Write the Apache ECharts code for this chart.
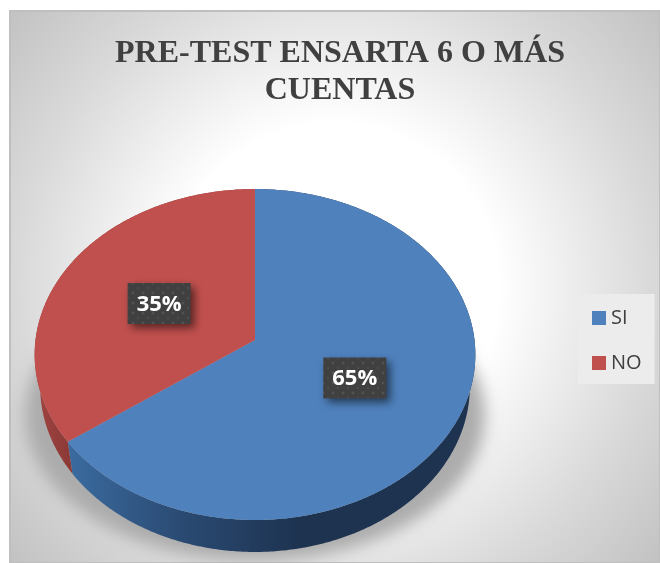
<!DOCTYPE html>
<html>
<head>
<meta charset="utf-8">
<style>
html, body { margin: 0; padding: 0; background: #fff; }
#chart { width: 660px; height: 563px; }
</style>
<script src="https://cdn.jsdelivr.net/npm/echarts@6/dist/echarts.min.js"></script>
</head>
<body>
<div id="chart"></div>
<script>
var titleLines = ["PRE-TEST ENSARTA 6 O MÁS", "CUENTAS"];
var categories = ["SI", "NO"];
var values = [65, 35];
var topColors = ["#4f81bd", "#c0504d"];

// pie geometry: tilted disc, the near half looks bigger than the far half
var cx = 255, cy = 340;
var radius = 219.5;
var persp = -0.0876, tilt = 134.4;
var depth = 32, baseShrink = 0.975;

function project(angle, r, dy, shrink) {
  var u = Math.sin(angle) * r, v = -Math.cos(angle) * r;
  var w = 1 + persp * v;
  return [cx + radius * (shrink || 1) * u / w, (cy + tilt * v) / w + (dy || 0)];
}

function arc(a0, a1, dy, shrink) {
  var pts = [];
  var n = Math.max(2, Math.ceil((a1 - a0) / 0.01));
  for (var i = 0; i <= n; i++) {
    pts.push(project(a0 + (a1 - a0) * i / n, 1, dy, shrink));
  }
  return pts;
}

// dotted texture of the label boxes
function dotPattern() {
  var c = document.createElement("canvas");
  c.width = 10;
  c.height = 10;
  var g = c.getContext("2d");
  g.fillStyle = "#404040";
  g.fillRect(0, 0, 10, 10);
  g.fillStyle = "#515151";
  g.beginPath();
  g.arc(3, 3, 1.4, 0, Math.PI * 2);
  g.fill();
  g.beginPath();
  g.arc(8, 8, 1.1, 0, Math.PI * 2);
  g.fill();
  return c;
}
var labelFill = { image: dotPattern(), repeat: "repeat" };

var sideFills = [
  {
    type: "linear", x: 65, y: 0, x2: 300, y2: 0, global: true,
    colorStops: [
      { offset: 0, color: "#3b6ca1" },
      { offset: 0.5, color: "#2a4a72" },
      { offset: 1, color: "#1d3350" }
    ]
  },
  {
    type: "linear", x: 35, y: 0, x2: 70, y2: 0, global: true,
    colorStops: [
      { offset: 0, color: "#a04441" },
      { offset: 1, color: "#8c3a37" }
    ]
  }
];

var total = values.reduce(function (a, b) { return a + b; }, 0);

function makeRender(index) {
  var before = 0;
  for (var i = 0; i < index; i++) before += values[i];
  return function (params, api) {
    var value = api.value(0);
    var a0 = before / total * Math.PI * 2;
    var a1 = (before + value) / total * Math.PI * 2;

    var topRim = arc(a0, a1, 0, 1);
    var lowRim = arc(a0, a1, depth, baseShrink).reverse();
    var mid = project((a0 + a1) / 2, 0.5);
    var boxW = 63, boxH = 41;

    return {
      type: "group",
      children: [
        {
          type: "polygon",
          shape: { points: topRim.concat(lowRim) },
          style: { fill: sideFills[index] }
        },
        {
          type: "polygon",
          shape: { points: [[cx, cy]].concat(topRim) },
          style: { fill: topColors[index] }
        },
        {
          type: "rect",
          shape: { x: mid[0] - boxW / 2, y: mid[1] - boxH / 2, width: boxW, height: boxH },
          style: {
            fill: labelFill,
            shadowBlur: 9,
            shadowOffsetX: 4,
            shadowOffsetY: 4,
            shadowColor: "rgba(0,0,0,0.55)"
          }
        },
        {
          type: "text",
          style: {
            x: mid[0],
            y: mid[1] + 1,
            text: value + "%",
            fill: "#fff",
            align: "center",
            verticalAlign: "middle",
            font: 'bold 22px "Open Sans", sans-serif'
          }
        }
      ]
    };
  };
}

// soft shadow on the floor under the pie: the shape sits off the canvas,
// only its blurred shadow lands on the chart so there is no hard edge
var shadowShift = 2000;
function renderShadow() {
  var pts = [];
  for (var i = 0; i <= 200; i++) {
    var t = i / 200 * Math.PI * 2;
    pts.push([cx - shadowShift + 230 * Math.cos(t), 415 + 146 * Math.sin(t)]);
  }
  return {
    type: "polygon",
    shape: { points: pts },
    style: {
      fill: "#000",
      shadowBlur: 16,
      shadowOffsetX: shadowShift,
      shadowColor: "rgba(172,172,172,1)"
    }
  };
}

var series = [{
  type: "custom",
  name: "shadow",
  coordinateSystem: "none",
  silent: true,
  z: 1,
  data: [[0]],
  renderItem: renderShadow
}];

categories.forEach(function (name, i) {
  series.push({
    type: "custom",
    name: name,
    coordinateSystem: "none",
    z: 2 + i,
    itemStyle: { color: topColors[i] },
    data: [[values[i]]],
    renderItem: makeRender(i)
  });
});

var myChart = echarts.init(document.getElementById("chart"));
myChart.setOption({
  animation: false,
  graphic: [
    {
      type: "rect",
      z: -10,
      silent: true,
      shape: { x: 10, y: 11, width: 650, height: 552 },
      style: {
        fill: {
          type: "radial", x: 0.5, y: 0.5, r: 0.82,
          colorStops: [
            { offset: 0, color: "#ffffff" },
            { offset: 0.36, color: "#ffffff" },
            { offset: 0.7, color: "#d9d9d9" },
            { offset: 1, color: "#bcbcbc" }
          ]
        },
        stroke: "#bfbfbf",
        lineWidth: 2
      }
    }
  ],
  title: {
    text: titleLines.join("\n"),
    left: 335,
    top: 30,
    textAlign: "center",
    textStyle: {
      fontFamily: '"Liberation Serif", serif',
      fontWeight: "bold",
      fontSize: 32,
      lineHeight: 37,
      color: "#404040"
    }
  },
  legend: {
    data: categories,
    orient: "vertical",
    left: 578,
    top: 294,
    padding: [14, 13, 11, 14],
    itemWidth: 14,
    itemHeight: 14,
    itemGap: 25,
    icon: "rect",
    backgroundColor: "#ececec",
    textStyle: {
      fontFamily: '"Open Sans", sans-serif',
      fontSize: 20,
      color: "#404040",
      padding: [0, 0, 0, 0]
    }
  },
  series: series
});
</script>
</body>
</html>
